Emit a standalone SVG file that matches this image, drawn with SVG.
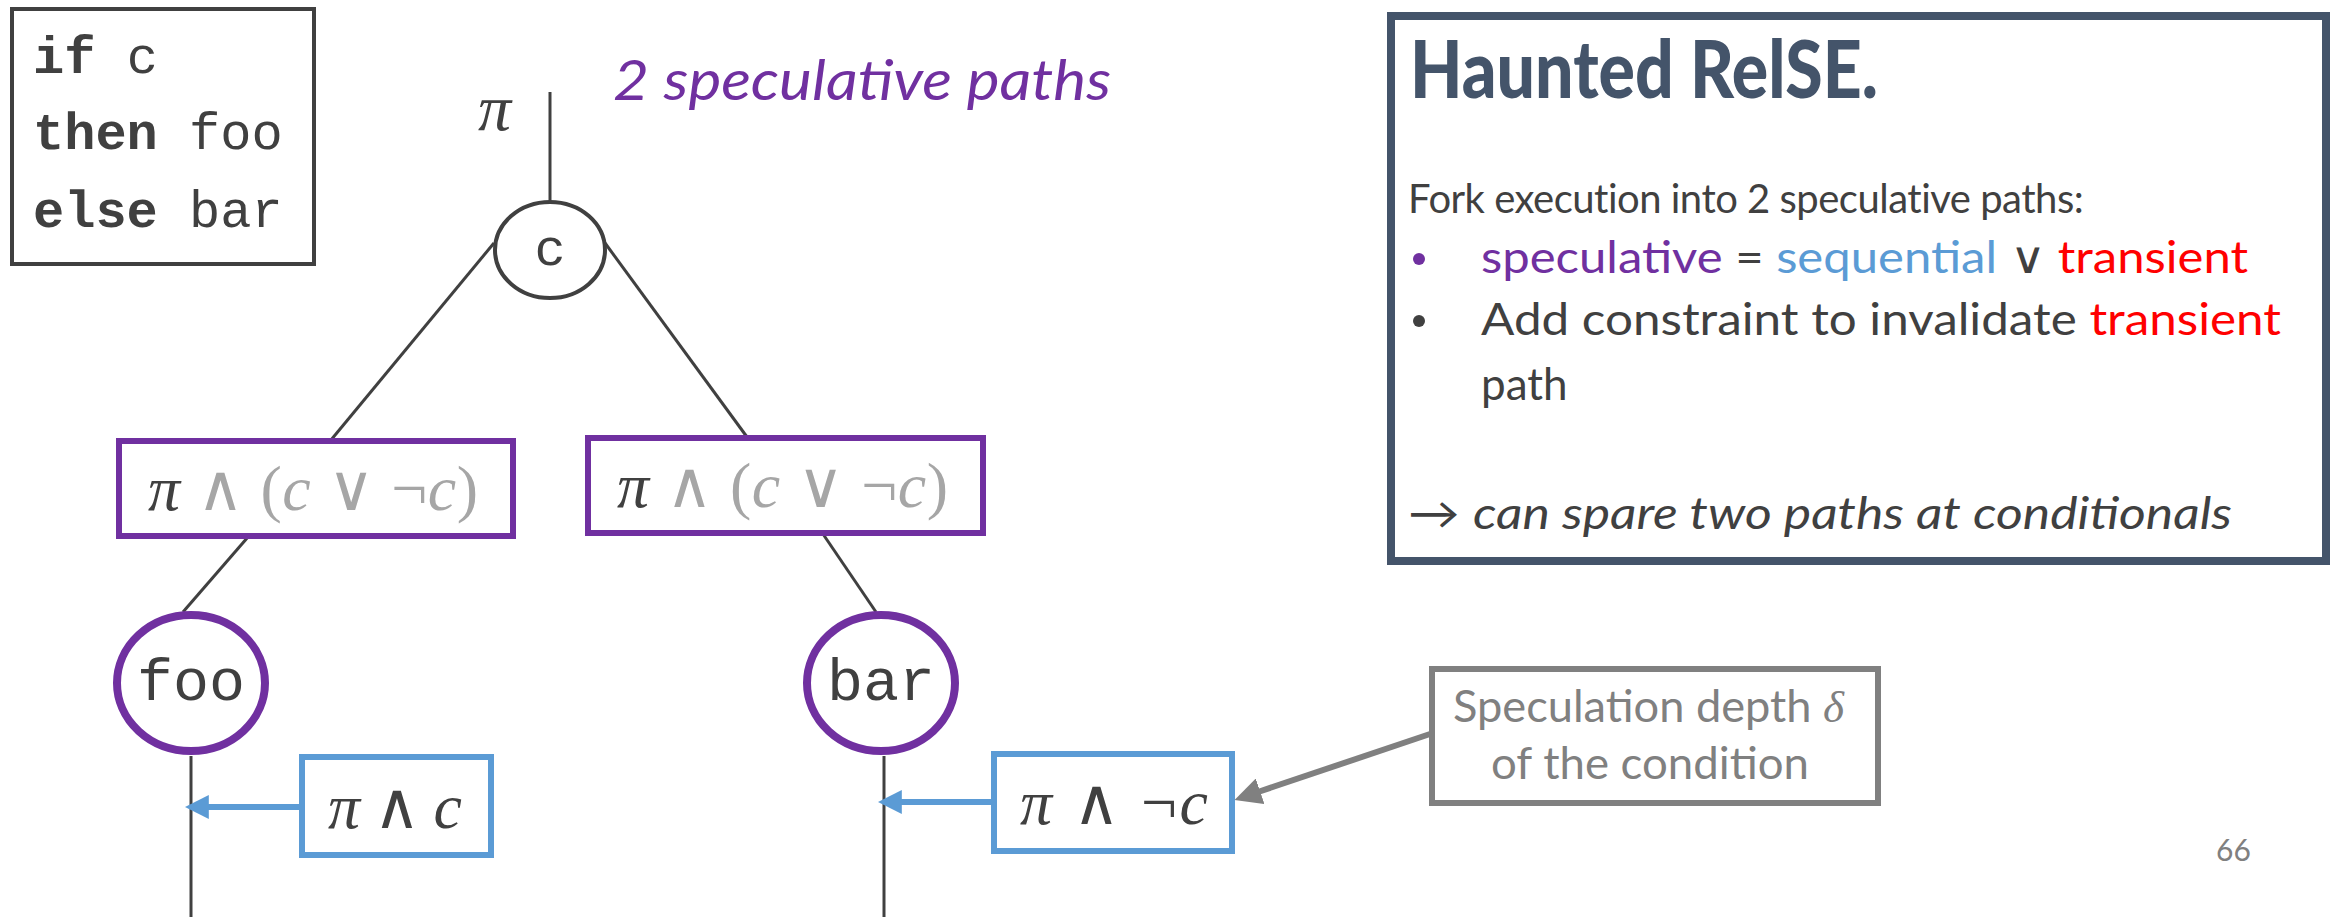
<svg xmlns="http://www.w3.org/2000/svg" width="2338" height="917" viewBox="0 0 2338 917">
<defs>
<style>
.code{font-family:"Liberation Mono","Courier New",monospace;fill:#404040}
.kw{font-weight:bold}
.cal{font-family:Lato,"Open Sans",sans-serif}
.math{font-family:"Liberation Serif","DejaVu Serif",serif}
.it{font-style:italic}
.edge{stroke:#404040;stroke-width:3;fill:none}
.pbox{fill:#fff;stroke:#7030A0;stroke-width:6}
.bbox{fill:#fff;stroke:#5B9BD5;stroke-width:6}
.pell{fill:#fff;stroke:#7030A0;stroke-width:8}
.g{fill:#A6A6A6}
.d{fill:#404040}
</style>
<marker id="ab" viewBox="0 0 10 10" refX="2" refY="5" markerWidth="4" markerHeight="4" orient="auto"><path d="M0,0L10,5L0,10z" fill="#5B9BD5"/></marker>
<marker id="ag" viewBox="0 0 10 10" refX="2" refY="5" markerWidth="4.5" markerHeight="4.5" orient="auto"><path d="M0,0L10,5L0,10z" fill="#808080"/></marker>
</defs>
<rect width="2338" height="917" fill="#fff"/>

<g id="code">
<rect x="12" y="9" width="302" height="255" fill="#fff" stroke="#404040" stroke-width="4"/>
<text class="code" x="33" y="73" font-size="52"><tspan class="kw">if</tspan> c</text>
<text class="code" x="33" y="149" font-size="52"><tspan class="kw">then</tspan> foo</text>
<text class="code" x="33" y="227" font-size="52"><tspan class="kw">else</tspan> bar</text>
</g>

<g id="title-spec">
<text class="cal it" x="613" y="100" font-size="56" fill="#7030A0" textLength="498" lengthAdjust="spacingAndGlyphs">2 speculative paths</text>
</g>

<g id="connectors">
<line class="edge" x1="550" y1="92" x2="550" y2="201"/>
<line class="edge" x1="494" y1="243" x2="331" y2="440"/>
<line class="edge" x1="605" y1="243" x2="747" y2="437"/>
<line class="edge" x1="248" y1="537" x2="183" y2="612"/>
<line class="edge" x1="823" y1="534" x2="876" y2="612"/>
<line class="edge" x1="191" y1="756" x2="191" y2="917"/>
<line class="edge" x1="884" y1="756" x2="884" y2="917"/>
<line x1="301" y1="807" x2="204" y2="807" stroke="#5B9BD5" stroke-width="6" marker-end="url(#ab)"/>
<line x1="993" y1="802" x2="897" y2="802" stroke="#5B9BD5" stroke-width="6" marker-end="url(#ab)"/>
<line x1="1430" y1="734" x2="1255" y2="793" stroke="#808080" stroke-width="6" marker-end="url(#ag)"/>
</g>

<g id="pi-label">
<text class="math it d" x="478" y="130" font-size="66">π</text>
</g>

<g id="node-c">
<ellipse cx="550" cy="250" rx="55" ry="48" fill="#fff" stroke="#404040" stroke-width="4"/>
<text class="code" x="550" y="265" font-size="52" text-anchor="middle">c</text>
</g>

<g id="cond-left">
<rect class="pbox" x="119" y="441" width="394" height="95"/>
<text class="math" x="148" y="510" font-size="64" textLength="330" lengthAdjust="spacing"><tspan class="it d">π</tspan><tspan class="g"> ∧ (</tspan><tspan class="it g">c</tspan><tspan class="g"> ∨ ¬</tspan><tspan class="it g">c</tspan><tspan class="g">)</tspan></text>
</g>

<g id="cond-right">
<rect class="pbox" x="588" y="438" width="395" height="95"/>
<text class="math" x="617" y="507" font-size="64" textLength="331" lengthAdjust="spacing"><tspan class="it d">π</tspan><tspan class="g"> ∧ (</tspan><tspan class="it g">c</tspan><tspan class="g"> ∨ ¬</tspan><tspan class="it g">c</tspan><tspan class="g">)</tspan></text>
</g>

<g id="node-foo">
<ellipse class="pell" cx="191" cy="683" rx="74" ry="68"/>
<text class="code" x="191" y="700" font-size="60" text-anchor="middle">foo</text>
</g>

<g id="node-bar">
<ellipse class="pell" cx="881" cy="683" rx="74" ry="68"/>
<text class="code" x="881" y="700" font-size="60" text-anchor="middle">bar</text>
</g>

<g id="seq-foo">
<rect class="bbox" x="302" y="757" width="189" height="98"/>
<text class="math d" x="328" y="828" font-size="64" textLength="134" lengthAdjust="spacing"><tspan class="it">π</tspan> ∧ <tspan class="it">c</tspan></text>
</g>

<g id="seq-bar">
<rect class="bbox" x="994" y="754" width="238" height="97"/>
<text class="math d" x="1020" y="824" font-size="64" textLength="188" lengthAdjust="spacing"><tspan class="it">π</tspan> ∧ ¬<tspan class="it">c</tspan></text>
</g>

<g id="depth-note">
<rect x="1432" y="669" width="446" height="134" fill="#fff" stroke="#808080" stroke-width="6"/>
<text class="cal" x="1453" y="722" font-size="45" fill="#808080" textLength="391" lengthAdjust="spacingAndGlyphs">Speculation depth <tspan class="math it">δ</tspan></text>
<text class="cal" x="1491" y="779" font-size="45" fill="#808080" textLength="318" lengthAdjust="spacingAndGlyphs">of the condition</text>
</g>

<g id="haunted-box">
<rect x="1391" y="16" width="935" height="545" fill="#fff" stroke="#44546A" stroke-width="8"/>
<text class="cal" x="1410" y="98" font-size="80" font-weight="900" fill="#44546A" textLength="468" lengthAdjust="spacingAndGlyphs">Haunted RelSE.</text>
<text class="cal" x="1408" y="213" font-size="40" fill="#404040" letter-spacing="-0.5">Fork execution into 2 speculative paths:</text>
<circle cx="1419" cy="259" r="6" fill="#7030A0"/>
<text class="cal" x="1481" y="273" font-size="44" textLength="767" lengthAdjust="spacingAndGlyphs"><tspan fill="#7030A0">speculative</tspan><tspan fill="#404040"> = </tspan><tspan fill="#5B9BD5">sequential</tspan><tspan fill="#404040"> ∨ </tspan><tspan fill="#FF0000">transient</tspan></text>
<circle cx="1419" cy="321" r="6" fill="#404040"/>
<text class="cal" x="1481" y="335" font-size="44" textLength="800" lengthAdjust="spacingAndGlyphs"><tspan fill="#404040">Add constraint to invalidate </tspan><tspan fill="#FF0000">transient</tspan></text>
<text class="cal" x="1481" y="400" font-size="44" fill="#404040">path</text>
<text class="cal" x="1408" y="529" font-size="44" fill="#404040" textLength="824" lengthAdjust="spacingAndGlyphs">→ <tspan class="it">can spare two paths at conditionals</tspan></text>
</g>

<g id="page-number">
<text class="cal" x="2216" y="861" font-size="30" fill="#808080">66</text>
</g>
</svg>
